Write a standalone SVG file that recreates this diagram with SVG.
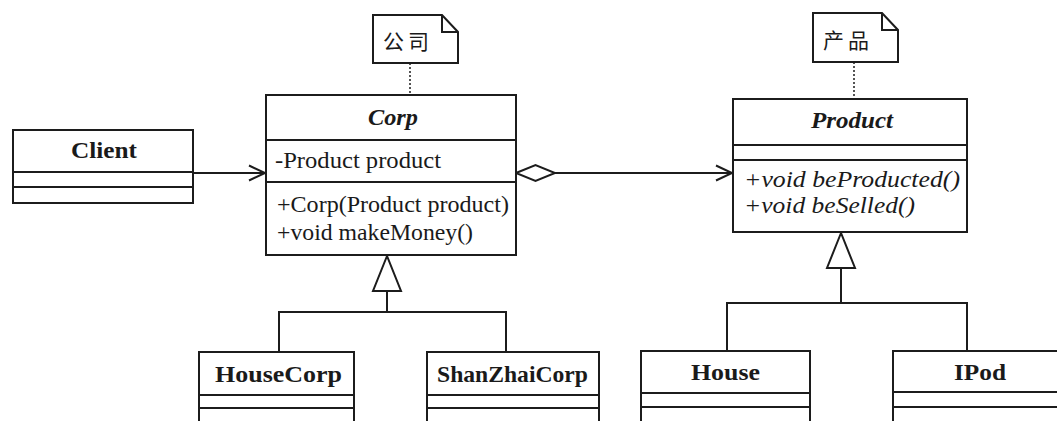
<svg xmlns="http://www.w3.org/2000/svg" width="1057" height="421" viewBox="0 0 1057 421">
  <style>
    .box { fill: #fff; stroke: #1c1c1c; stroke-width: 2; }
    .div { stroke: #1c1c1c; stroke-width: 2; fill: none; }
    .ln { stroke: #1c1c1c; stroke-width: 2; fill: none; }
    .dash { stroke: #1c1c1c; stroke-width: 1.5; stroke-dasharray: 2 2; fill: none; }
    .t { font-family: "Liberation Serif", "Times New Roman", serif; font-size: 23px; fill: #1a1a1a; }
    .b { font-weight: bold; }
    .i { font-style: italic; }
    .c { text-anchor: middle; }
    .cjk { font-family: "Liberation Serif", "Noto Sans CJK SC", sans-serif; font-size: 21px; fill: #1a1a1a; letter-spacing: 4px; }
  </style>
  <defs>
    <marker id="open" markerUnits="userSpaceOnUse" viewBox="-19 -10 22 20" markerWidth="22" markerHeight="20" refX="0" refY="0" orient="auto">
      <path d="M-16,-7.5 L0,0 L-16,7.5" fill="none" stroke="#1c1c1c" stroke-width="2"/>
    </marker>
    <marker id="diamond" markerUnits="userSpaceOnUse" viewBox="-2 -10 44 20" markerWidth="44" markerHeight="20" refX="0" refY="0" orient="auto">
      <path d="M0,0 L19.5,-8 L39,0 L19.5,8 Z" fill="#fff" stroke="#1c1c1c" stroke-width="2"/>
    </marker>
    <marker id="tri" markerUnits="userSpaceOnUse" viewBox="-38 -17 40 34" markerWidth="40" markerHeight="34" refX="0" refY="0" orient="auto">
      <path d="M0,0 L-35,-14 L-35,14 Z" fill="#fff" stroke="#1c1c1c" stroke-width="2"/>
    </marker>
  </defs>
  <rect width="1057" height="421" fill="#fff"/>

  <g id="connectors">
    <path class="ln" d="M193 173 H265" marker-end="url(#open)"/>
    <path class="ln" d="M516 173 H732" marker-start="url(#diamond)" marker-end="url(#open)"/>
    <path class="ln" d="M279 352 V312 H506 V352"/>
    <path class="ln" d="M387 312 V256" marker-end="url(#tri)"/>
    <path class="ln" d="M727 351 V303 H967 V351"/>
    <path class="ln" d="M841 303 V233" marker-end="url(#tri)"/>
    <path class="dash" d="M410 63 V95"/>
    <path class="dash" d="M854 62 V99"/>
  </g>

  <g id="note-corp">
    <path class="box" d="M373 15 H442 L458 32 V63 H373 Z"/>
    <path class="div" d="M442 15 V32 H458" stroke-width="1.5"/>
    <text class="cjk" x="383" y="49">公司</text>
  </g>

  <g id="note-product">
    <path class="box" d="M813 13 H882 L898 30 V62 H813 Z"/>
    <path class="div" d="M882 13 V30 H898" stroke-width="1.5"/>
    <text class="cjk" x="823" y="48">产品</text>
  </g>

  <g id="client">
    <rect class="box" x="13" y="130" width="180" height="73"/>
    <path class="div" d="M13 172 H193 M13 187 H193"/>
    <text class="t b c" x="104" y="158" textLength="66" lengthAdjust="spacingAndGlyphs">Client</text>
  </g>

  <g id="corp">
    <rect class="box" x="266" y="95" width="250" height="160"/>
    <path class="div" d="M266 140 H516 M266 182 H516"/>
    <text class="t b i c" x="393" y="125" textLength="50" lengthAdjust="spacingAndGlyphs">Corp</text>
    <text class="t" x="275" y="168" textLength="166" lengthAdjust="spacingAndGlyphs">-Product product</text>
    <text class="t" x="277" y="212" textLength="232" lengthAdjust="spacingAndGlyphs">+Corp(Product product)</text>
    <text class="t" x="277" y="240" textLength="196" lengthAdjust="spacingAndGlyphs">+void makeMoney()</text>
  </g>

  <g id="product">
    <rect class="box" x="733" y="99" width="234" height="133"/>
    <path class="div" d="M733 145 H967 M733 160 H967"/>
    <text class="t b i c" x="852" y="128" textLength="82" lengthAdjust="spacingAndGlyphs">Product</text>
    <text class="t i" x="744" y="187" textLength="216" lengthAdjust="spacingAndGlyphs">+void beProducted()</text>
    <text class="t i" x="744" y="213" textLength="171" lengthAdjust="spacingAndGlyphs">+void beSelled()</text>
  </g>

  <g id="housecorp">
    <rect class="box" x="199" y="352" width="155" height="90"/>
    <path class="div" d="M199 395 H354 M199 408 H354"/>
    <text class="t b" x="215" y="382" textLength="127" lengthAdjust="spacingAndGlyphs">HouseCorp</text>
  </g>

  <g id="shanzhaicorp">
    <rect class="box" x="427" y="352" width="172" height="90"/>
    <path class="div" d="M427 395 H599 M427 408 H599"/>
    <text class="t b" x="437" y="382" textLength="151" lengthAdjust="spacingAndGlyphs">ShanZhaiCorp</text>
  </g>

  <g id="house">
    <rect class="box" x="641" y="351" width="169" height="90"/>
    <path class="div" d="M641 393 H810 M641 407 H810"/>
    <text class="t b" x="691" y="380" textLength="69" lengthAdjust="spacingAndGlyphs">House</text>
  </g>

  <g id="ipod">
    <rect class="box" x="893" y="351" width="190" height="90"/>
    <path class="div" d="M893 392 H1083 M893 407 H1083"/>
    <text class="t b" x="954" y="380" textLength="52" lengthAdjust="spacingAndGlyphs">IPod</text>
  </g>
</svg>
